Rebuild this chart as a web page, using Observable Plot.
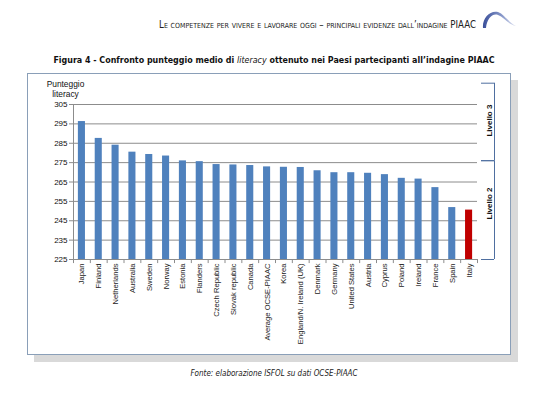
<!DOCTYPE html>
<html>
<head>
<meta charset="utf-8">
<script src="https://cdn.jsdelivr.net/npm/d3@7"></script>
<script src="https://cdn.jsdelivr.net/npm/@observablehq/plot@0.6"></script>
<style>
  html, body { margin: 0; padding: 0; background: #fff; }
  #page { position: relative; width: 548px; height: 393px; overflow: hidden; font-family: "Liberation Sans", Arial, sans-serif; }
  #header { position: absolute; right: 72px; top: 19px; font-family: "DejaVu Sans Condensed", "DejaVu Sans", sans-serif; font-size: 9.6px; font-variant: small-caps; color: #222; white-space: nowrap; }
  #logo { position: absolute; left: 476px; top: 4px; }
  #title { position: absolute; left: 0; width: 548px; top: 55px; text-align: center; font-family: "DejaVu Sans Condensed", "DejaVu Sans", sans-serif; font-weight: bold; font-size: 8.85px; color: #111; white-space: nowrap; }
  #frame { position: absolute; left: 27px; top: 73px; width: 482px; height: 280px; border: 1px solid #8a9fb8; box-shadow: 7px 7px 0 #d9d9d9; background: #fff; }
  #chart { position: absolute; left: 0; top: 73px; }
  #caption { position: absolute; left: 0; width: 548px; top: 369px; text-align: center; font-family: "DejaVu Sans Condensed", "DejaVu Sans", sans-serif; font-style: italic; font-size: 8px; color: #222; white-space: nowrap; }
</style>
</head>
<body>
<div id="page">
  <div id="header">Le competenze per vivere e lavorare oggi – principali evidenze dall’indagine PIAAC</div>
  <svg id="logo" width="44" height="30" viewBox="0 0 44 30">
    <defs>
      <linearGradient id="lg" x1="0" x2="1" y1="0" y2="0">
        <stop offset="0" stop-color="#3a4f9a"/>
        <stop offset="0.6" stop-color="#8c9ccc"/>
        <stop offset="1" stop-color="#e4e8f4"/>
      </linearGradient>
    </defs>
    <path d="M7,24 C6,14 14,6 22,8 C28,10 32,18 40,22 C33,21 28,13 22,11 C16,9 11,15 10,24 Z" fill="url(#lg)"/>
  </svg>
  <div id="title">Figura 4 - Confronto punteggio medio di <i style="font-weight:normal">literacy</i> ottenuto nei Paesi partecipanti all’indagine PIAAC</div>
  <div id="frame"></div>
  <div id="chart"></div>
  <div id="caption">Fonte: elaborazione ISFOL su dati OCSE-PIAAC</div>
</div>
<script>
// ---- data ----
const countries = ["Japan","Finland","Netherlands","Australia","Sweden","Norway","Estonia","Flanders","Czech Republic","Slovak republic","Canada","Average OCSE-PIAAC","Korea","England/N. Ireland (UK)","Denmark","Germany","United States","Austria","Cyprus","Poland","Ireland","France","Spain","Italy"];
const scores = [296.2,287.5,284.0,280.4,279.2,278.4,275.9,275.5,274.0,273.8,273.5,272.8,272.6,272.5,270.8,269.8,269.8,269.5,268.8,266.9,266.5,262.1,251.8,250.5];
const highlight = "Italy";
const yTicks = [225,235,245,255,265,275,285,295,305];
const levelNames = ["Livello 2","Livello 3"];
const levelFrom = [225,276];
const levelTo = [276,316];
const levelLabelY = [253.9,296.7];
const yTitle = "Punteggio\nliteracy";

// ---- build ----
const data = countries.map((c,i) => ({country: c, score: scores[i]}));
const levels = levelNames.map((n,i) => ({name: n, from: levelFrom[i], to: levelTo[i], mid: levelLabelY[i]}));

const W = 548, H = 282, ML = 73, MR = 71, MT = 31, MB = 96;
const plotW = W - ML - MR;
const step = plotW / countries.length;
const lastCenter = ML + step * (countries.length - 0.5);
const bracketX = 494;
const labelX = 489;
const last = countries[countries.length-1];

const chart = Plot.plot({
  width: W, height: H,
  marginLeft: ML, marginRight: MR, marginTop: MT, marginBottom: MB,
  style: {fontFamily: "Liberation Sans, Arial, sans-serif", fontSize: "8px", color: "#111", background: "transparent", overflow: "visible"},
  x: {domain: countries, paddingInner: 0.58, paddingOuter: 0.29, round: false, label: null},
  y: {domain: [225, 305], ticks: yTicks, label: null},
  marks: [
    Plot.gridY(yTicks, {stroke: "#8c8c8c", strokeOpacity: 1, strokeWidth: 1}),
    Plot.barY(data, {x: "country", y1: 225, y2: "score", fill: d => d.country === highlight ? "#c00000" : "#4f81bd"}),
    Plot.frame({anchor: "left", stroke: "#8c8c8c"}),
    Plot.frame({anchor: "bottom", stroke: "#8c8c8c"}),
    // category separators below the axis
    Plot.ruleX(countries, {x: d => d, y1: 225, y2: 222.9, dx: step/2, stroke: "#8c8c8c"}),
    Plot.ruleX([countries[0]], {x: d => d, y1: 225, y2: 222.9, dx: -step/2, stroke: "#8c8c8c"}),
    Plot.axisY(yTicks, {tickSize: 4, tickPadding: 2, stroke: "#8c8c8c", fill: "#111", fontSize: 8}),
    Plot.axisX({tickSize: 0, tickPadding: 4, tickRotate: -90, fill: "#222", fontSize: 7.6}),
    // y title
    Plot.text([yTitle], {frameAnchor: "top-left", dx: -8, dy: -16, textAnchor: "middle", lineAnchor: "middle", lineHeight: 1.2, fontSize: 8.4, fill: "#111"}),
    // level brackets
    Plot.ruleX(levels, {x: () => last, y1: "from", y2: "to", dx: bracketX - lastCenter, stroke: "#4f6fa0", strokeWidth: 1}),
    Plot.ruleY(levels, {y: "from", insetLeft: 481 - ML, insetRight: (W - MR) - bracketX, stroke: "#4f6fa0"}),
    Plot.ruleY(levels, {y: "to", insetLeft: 481 - ML, insetRight: (W - MR) - bracketX, stroke: "#4f6fa0"}),
    Plot.text(levels, {x: () => last, y: "mid", text: "name", dx: labelX - lastCenter, rotate: -90, fontWeight: "bold", fontSize: 8, fill: "#111"})
  ]
});
document.getElementById("chart").appendChild(chart);
</script>
</body>
</html>
